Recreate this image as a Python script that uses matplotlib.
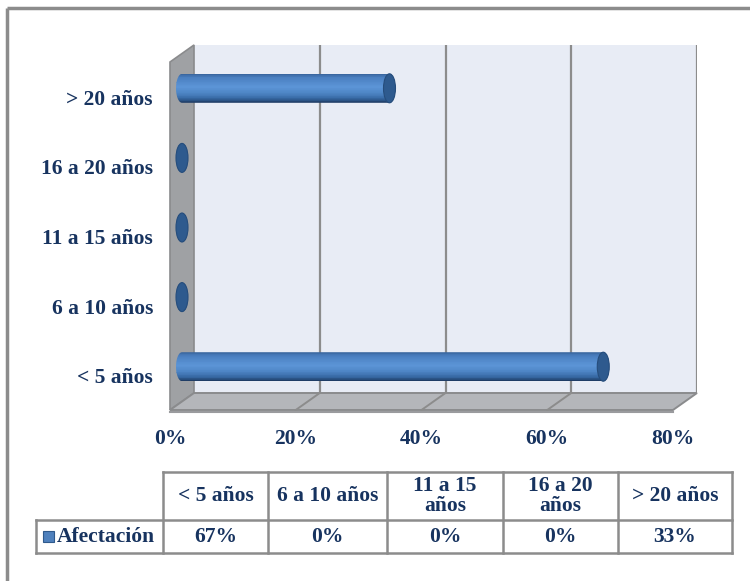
import numpy as np
import matplotlib
matplotlib.use("Agg")
import matplotlib.pyplot as plt
from matplotlib.patches import Rectangle, Polygon, Ellipse, PathPatch
from matplotlib.path import Path
from matplotlib.colors import LinearSegmentedColormap

# datos
categorias = ["< 5 años", "6 a 10 años", "11 a 15 años", "16 a 20 años", "> 20 años"]
encabezados = ["< 5 años", "6 a 10 años", "11 a 15\naños", "16 a 20\naños", "> 20 años"]
afectacion = [0.67, 0.0, 0.0, 0.0, 0.33]
serie = "Afectación"
ticks_x = [0.0, 0.2, 0.4, 0.6, 0.8]

TXT = "#17335F"
FONT = "Liberation Serif"
GRIS = "#8C8C8C"
FS = 15.5

W, H = 750, 581
fig = plt.figure(figsize=(W / 100, H / 100), dpi=100)

# capa de fondo en pixeles (marco y tabla)
ov = fig.add_axes([0, 0, 1, 1])
ov.set_xlim(0, W)
ov.set_ylim(H, 0)
ov.axis("off")

# ejes del grafico (pared del fondo)
px_l, px_r, px_t, px_b = 194, 697, 45, 393
ax = fig.add_axes([px_l / W, 1 - px_b / H, (px_r - px_l) / W, (px_b - px_t) / H])
xmax = 0.8
ax.set_xlim(0, xmax)
ax.set_ylim(-0.5, 4.5)
ax.axis("off")

# profundidad 3D en unidades de datos
sx = xmax / (px_r - px_l)
sy = 5.0 / (px_b - px_t)
dx, dy = -24 * sx, -17 * sy

# pared del fondo y rejilla
ax.add_patch(Rectangle((0, -0.5), xmax, 5, fc="#E8ECF5", ec="none", zorder=0))
ax.vlines(ticks_x[1:], -0.5, 4.5, color=GRIS, lw=1.6, zorder=1)

# pared izquierda
ax.add_patch(Polygon([(0, -0.5), (0, 4.5), (dx, 4.5 + dy), (dx, -0.5 + dy)],
                     closed=True, fc="#9FA1A4", ec="#8A8B8D", lw=1.2,
                     clip_on=False, zorder=2))
# piso
ax.add_patch(Polygon([(0, -0.5), (xmax, -0.5), (xmax + dx, -0.5 + dy), (dx, -0.5 + dy)],
                     closed=True, fc="#B4B6BA", ec="#8A8B8D", lw=1.4,
                     clip_on=False, zorder=2))
for xv in ticks_x[1:-1]:
    ax.plot([xv, xv + dx], [-0.5, -0.5 + dy], color=GRIS, lw=1.4,
            clip_on=False, zorder=3)
ax.plot([dx, xmax + dx], [-0.5 + dy - 1.5 * sy] * 2, color="#9A9B9E", lw=1.5,
        clip_on=False, zorder=3)

# cilindros
cmap = LinearSegmentedColormap.from_list("cil", [
    (0.0, "#3A67A0"), (0.12, "#4A7FC0"), (0.45, "#5C95D7"),
    (0.68, "#4D84C4"), (0.86, "#3668A3"), (1.0, "#1F3D66")])
r = 14.5 * sy
capw = 6 * sx
nb = 40
for i, v in enumerate(afectacion):
    yc = i + dy / 2
    x0 = dx / 2
    x1 = dx / 2 + v
    t = np.linspace(np.pi / 2, -np.pi / 2, 30)
    der = np.column_stack([x1 + capw * np.cos(t), yc + r * np.sin(t)])
    t2 = np.linspace(-np.pi / 2, -3 * np.pi / 2, 30)
    izq = np.column_stack([x0 + capw * np.cos(t2), yc + r * np.sin(t2)])
    verts = np.vstack([der, izq, der[:1]])
    codes = [Path.MOVETO] + [Path.LINETO] * (len(verts) - 2) + [Path.CLOSEPOLY]
    clip = PathPatch(Path(verts, codes), fc="none", ec="none",
                     transform=ax.transData, clip_on=False)
    ax.add_patch(clip)
    ys = yc + r - (np.arange(nb) + 0.5) * (2 * r / nb)
    cols = [cmap(k / (nb - 1)) for k in range(nb)]
    barras = ax.barh(ys, v + 2 * capw, left=x0 - capw, height=2 * r / nb * 1.05,
                     color=cols, lw=0, zorder=4)
    for b in barras:
        b.set_clip_box(None)
        b.set_clip_path(clip)
    ax.add_patch(Ellipse((x1, yc), 2 * capw, 2 * r, fc="#2E5A8E", ec="#264D7C",
                         lw=0.8, clip_on=False, zorder=5))

# etiquetas de categorias
for i, c in enumerate(categorias):
    ax.text(dx - 17 * sx, i + dy - 3 * sy, c, ha="right", va="center", color=TXT,
            fontsize=FS, fontweight="bold", family=FONT, clip_on=False)

# etiquetas del eje x
for xv in ticks_x:
    ax.text(xv + dx, -0.5 + dy - 19 * sy, f"{xv * 100:.0f}%", ha="center", va="top",
            color=TXT, fontsize=FS, fontweight="bold", family=FONT, clip_on=False)

# marco exterior
ov.plot([7, W + 5], [8, 8], color=GRIS, lw=2.5, solid_capstyle="butt")
ov.plot([7, 7], [8, H + 5], color=GRIS, lw=2.5, solid_capstyle="butt")

# tabla de datos
cols_x = [163, 268, 387, 503, 618, 732]
leg_x = 36
y_top, y_mid, y_bot = 472, 520, 553
lw_t = 1.8
ov.plot([cols_x[0], cols_x[-1]], [y_top, y_top], color=GRIS, lw=lw_t)
ov.plot([leg_x, cols_x[-1]], [y_mid, y_mid], color=GRIS, lw=lw_t)
ov.plot([leg_x, cols_x[-1]], [y_bot, y_bot], color=GRIS, lw=lw_t)
for xv in cols_x:
    ov.plot([xv, xv], [y_top, y_bot], color=GRIS, lw=lw_t)
ov.plot([leg_x, leg_x], [y_mid, y_bot], color=GRIS, lw=lw_t)

for j, (h, v) in enumerate(zip(encabezados, afectacion)):
    cx = (cols_x[j] + cols_x[j + 1]) / 2
    ov.text(cx, (y_top + y_mid) / 2, h, ha="center", va="center", color=TXT,
            fontsize=FS, fontweight="bold", family=FONT, linespacing=0.95)
    ov.text(cx, (y_mid + y_bot) / 2 + 1, f"{v * 100:.0f}%", ha="center", va="center",
            color=TXT, fontsize=FS, fontweight="bold", family=FONT)

ov.add_patch(Rectangle((43, 531), 11, 11, fc="#4F81BD", ec="#2F5A8C", lw=0.8))
ov.text(57, (y_mid + y_bot) / 2 + 1, serie, ha="left", va="center", color=TXT,
        fontsize=FS, fontweight="bold", family=FONT)

fig.savefig("out.png", dpi=100, facecolor="white")
